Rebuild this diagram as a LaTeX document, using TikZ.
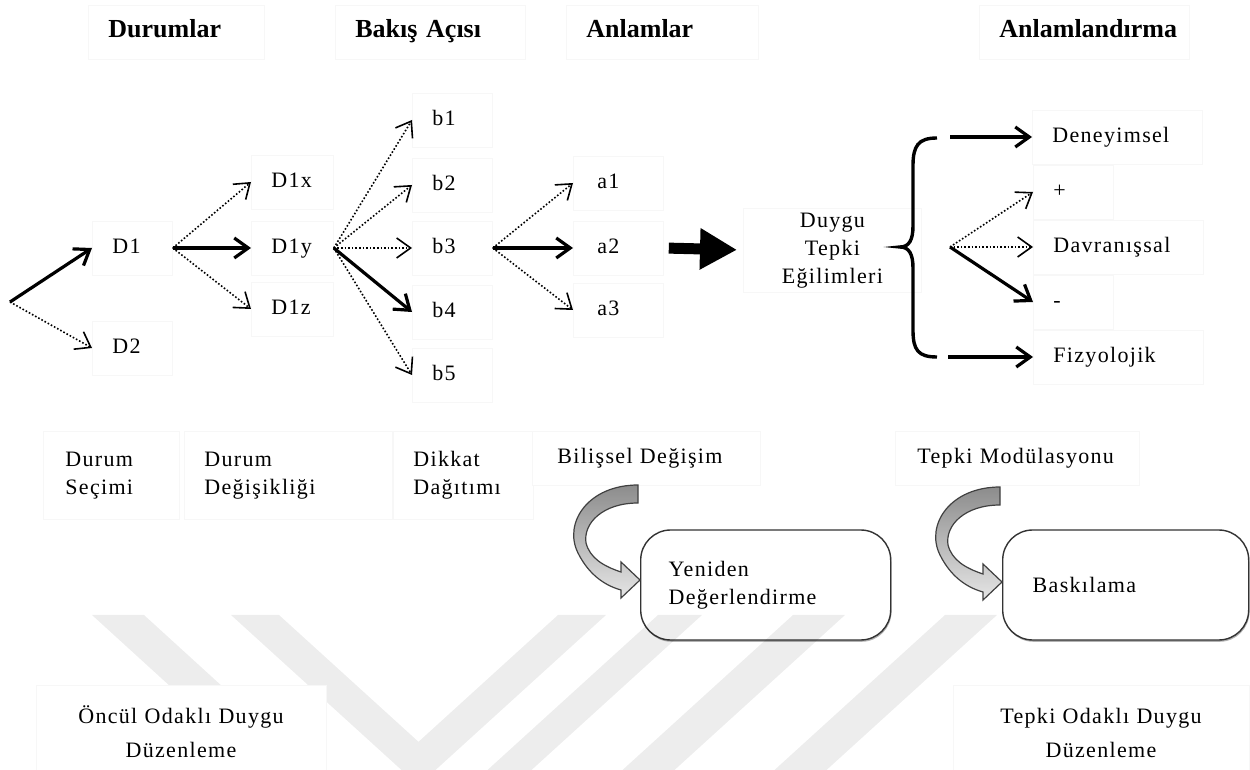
\documentclass[tikz,border=0pt]{standalone}
\usepackage{fontspec}
\setmainfont[LetterSpace=6]{Liberation Serif}
\newfontfamily\baslikfont{Liberation Serif}
\usetikzlibrary{arrows.meta,shadows}

\begin{document}
\begin{tikzpicture}[x=0.5pt, y=-0.5pt, font=\fontsize{11}{14}\selectfont,
    kutu/.style={draw=black!3, fill=white, anchor=west, align=left, inner xsep=10pt, inner ysep=0pt, minimum height=27pt, text width=#1, execute at begin node=\strut, execute at end node=\strut},
    kutu/.default=21pt,
    baslik/.style={kutu=#1, font=\baslikfont\bfseries\fontsize{13}{15}\selectfont},
    yuvarlak/.style={draw=black!80, line width=0.7pt, fill=white, rounded corners=15pt, anchor=west, align=left, inner xsep=14pt, minimum height=55pt, text width=#1, drop shadow={shadow xshift=0.4pt, shadow yshift=-0.9pt, fill=black!60}},
    kalin/.style={line width=1.6pt, -{Straight Barb[length=7pt, width=10pt]}},
    noktali/.style={line width=0.8pt, densely dotted, -{Straight Barb[length=7pt, width=10pt]}}]

    \path[fill=white] (0,0) rectangle (1250,770);
    \useasboundingbox (0,0) rectangle (1250,770);

    \node[yuvarlak=97pt] (yeniden) at (640,585) {Yeniden\\Değerlendirme};
    \node[yuvarlak=93pt, inner xsep=15pt] (baski) at (1002,585) {Baskılama};

    \fill[black, fill opacity=0.07] (92,615) -- (144,615) -- (314,770) -- (262,770) -- cycle;
    \fill[black, fill opacity=0.07] (231,615) -- (279,615) -- (418.5,741.8) -- (558,615) -- (606,615) -- (435.5,770) -- (401.5,770) -- cycle;
    \fill[black, fill opacity=0.07] (658,615) -- (702,615) -- (531.5,770) -- (487.5,770) -- cycle;
    \fill[black, fill opacity=0.07] (793,615) -- (845,615) -- (674.5,770) -- (622.5,770) -- cycle;
    \fill[black, fill opacity=0.07] (945,615) -- (997,615) -- (826.5,770) -- (774.5,770) -- cycle;

    \node[baslik=68pt] (durumlar) at (88,32) {Durumlar};
    \node[baslik=75pt] (bakis) at (335,32) {Bakış Açısı};
    \node[baslik=76pt] (anlamlar) at (566,32) {Anlamlar};
    \node[baslik=85pt] (anlamlandirma) at (979,32) {Anlamlandırma};

    \coordinate (kok) at (10,302);
    \node[kutu=20pt] (D1) at (92,248) {D1};
    \node[kutu=20pt] (D2) at (92,348) {D2};

    \node[kutu] (D1x) at (251,182) {D1x};
    \node[kutu] (D1y) at (251,248) {D1y};
    \node[kutu] (D1z) at (251,309) {D1z};

    \foreach \i/\y in {1/120,2/185,3/248,4/312,5/375}
        \node[kutu=20pt] (b\i) at (412,\y) {b\i};

    \foreach \i/\y in {1/183,2/248,3/310}
        \node[kutu, inner xsep=12pt] (a\i) at (573,\y) {a\i};

    \node[kutu=69pt, align=center] (egilim) at (743,250) {Duygu\\Tepki\\Eğilimleri};

    \node[kutu=65pt] (deneyim) at (1032,137) {Deneyimsel};
    \node[kutu=20pt] (arti) at (1033,192) {+};
    \node[kutu=65pt] (davranis) at (1033,247) {Davranışsal};
    \node[kutu=20pt] (eksi) at (1033,302) {-};
    \node[kutu=65pt] (fizyo) at (1033,357) {Fizyolojik};

    \node[kutu=46pt, inner xsep=11pt, minimum height=44pt] (secim) at (43,475) {Durum\\Seçimi};
    \node[kutu=84pt, minimum height=44pt] (degisiklik) at (184,475) {Durum\\Değişikliği};
    \node[kutu=50pt, minimum height=44pt] (dikkat) at (393,475) {Dikkat\\Dağıtımı};
    \node[kutu=89pt, inner xsep=12.5pt] (bilissel) at (532,458) {Bilişsel Değişim};
    \node[kutu=100pt, inner xsep=11pt] (tepkimod) at (895,458) {Tepki Modülasyonu};

    \node[kutu=125pt, align=center, anchor=center, minimum height=50pt] (oncul) at (181,735) {Öncül Odaklı Duygu\\[3pt]Düzenleme};
    \node[kutu=128pt, align=center, anchor=center, minimum height=50pt] (tepkiodak) at (1101,735) {Tepki Odaklı Duygu\\[3pt]Düzenleme};

    \draw[kalin] (kok) -- (D1.west);
    \draw[noktali] (kok) -- (D2.west);
    \draw[noktali] (D1.east) -- (D1x.west);
    \draw[kalin] (D1.east) -- (D1y.west);
    \draw[noktali] (D1.east) -- (D1z.west);
    \foreach \i in {1,2,3,5}
        \draw[noktali] (D1y.east) -- (b\i.west);
    \draw[kalin] (D1y.east) -- (b4.west);
    \draw[noktali] (b3.east) -- (a1.west);
    \draw[kalin] (b3.east) -- (a2.west);
    \draw[noktali] (b3.east) -- (a3.west);
    \draw[line width=5.5pt, shorten <=2.5pt, shorten >=3pt, -{Triangle[length=18.5pt, width=19.5pt]}] (a2.east) -- (egilim.west);

    \draw[line width=1.7pt] (937,138) .. controls (918,138) and (913,146) .. (913,166) -- (913,226) .. controls (913,240) and (909,247) .. (900,247) .. controls (909,247) and (913,254) .. (913,268) -- (913,330) .. controls (913,350) and (918,357) .. (937,357);
    \coordinate (ust) at (950,137);
    \coordinate (uc) at (950,247);
    \coordinate (alt) at (948,357);
    \draw[kalin] (ust) -- (deneyim.west);
    \draw[noktali] (uc) -- (arti.west);
    \draw[noktali] (uc) -- (davranis.west);
    \draw[kalin] (uc) -- (eksi.west);
    \draw[kalin] (alt) -- (fizyo.west);

    \foreach \dx/\dy in {0/0,362/2}
        \draw[black!75, line width=0.6pt, top color=black!45, bottom color=black!10, shift={(\dx,\dy)}] (638,485) .. controls (588,485) and (563,523) .. (578,553) .. controls (588,573) and (603,585) .. (621,590) -- (621,598) -- (640,580) -- (621,562) -- (621,572) .. controls (603,566) and (590,558) .. (586,543) .. controls (583,523) and (603,503) .. (638,503) -- cycle;
\end{tikzpicture}
\end{document}
